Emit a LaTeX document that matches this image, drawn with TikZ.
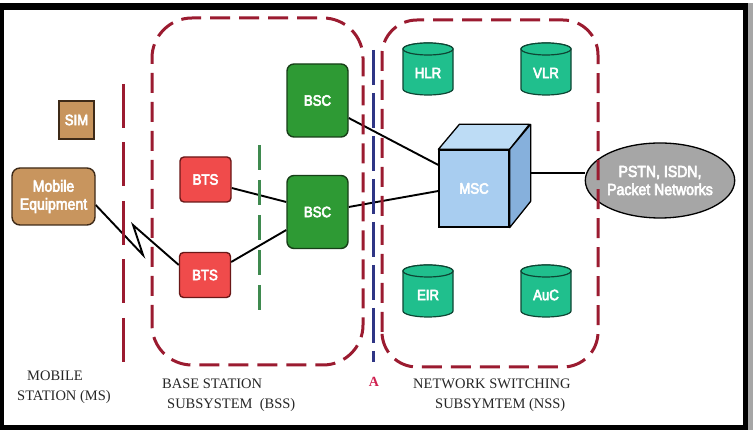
\documentclass[tikz,border=0pt]{standalone}
\usepackage{fontspec}
\setmainfont{Liberation Serif}
\newfontfamily\lsans[FakeStretch=0.88]{Liberation Sans}
\usetikzlibrary{backgrounds,shapes.geometric,calc}
\definecolor{dred}{HTML}{9B1B30}
\definecolor{dgreen}{HTML}{3F8A4F}
\definecolor{dblue}{HTML}{2F3585}
\definecolor{bscfill}{HTML}{2E9A34}
\definecolor{bscedge}{HTML}{173F18}
\definecolor{btsfill}{HTML}{F04B4B}
\definecolor{btsedge}{HTML}{6A1818}
\definecolor{mefill}{HTML}{C8955E}
\definecolor{meedge}{HTML}{3E2A18}
\definecolor{cylfill}{HTML}{20BF8D}
\definecolor{cyledge}{HTML}{0E4634}
\definecolor{mscfront}{HTML}{A8CDF0}
\definecolor{msctop}{HTML}{BDDCF5}
\definecolor{mscside}{HTML}{86B0DC}
\definecolor{netfill}{HTML}{A6A6A6}
\definecolor{crimson}{HTML}{D0204F}
\newcommand{\dbcyl}[4]{%
  \path[cyl] (#2-25,#3+20) -- (#2-25,#3-20)
    arc[start angle=180,end angle=360,x radius=25,y radius=6]
    -- (#2+25,#3+20)
    arc[start angle=0,end angle=180,x radius=25,y radius=6] -- cycle;
  \path[cyl] (#2,#3+20) ellipse[x radius=25,y radius=6];
  \node[lbl] (#1) at (#2,#3-4) {#4};}
\pgfdeclarelayer{background}
\begin{document}
\begin{tikzpicture}[x=1pt,y=1pt,
  lbl/.style={font=\lsans\fontsize{15}{16}\selectfont, text=white, inner sep=0pt, align=center,
    execute at begin node={\special{pdf:literal direct 2 Tr 0.6 w 0.2 0.2 0.2 RG}},
    execute at end node={\special{pdf:literal direct 0 Tr}}},
  biglbl/.style={lbl, font=\lsans\fontsize{16}{18}\selectfont},
  bscbox/.style={lbl, draw=bscedge, fill=bscfill, line width=1.4, rounded corners=7, minimum width=61, minimum height=73},
  btsbox/.style={lbl, draw=btsedge, fill=btsfill, line width=1.4, rounded corners=4, minimum width=51, minimum height=45},
  cyl/.style={draw=cyledge, fill=cylfill, line width=1.2},
  link/.style={line width=1.9, black},
  redbox/.style={draw=dred, line width=3, dash pattern=on 20 off 9},
  caption/.style={font=\fontsize{14.5}{20.5}\selectfont, align=left, inner sep=0pt, text=black!85}]
\useasboundingbox (0,0) rectangle (753,430);
\begin{pgfonlayer}{background}
  \fill[black] (0,0) rectangle (748,427);
  \fill[black!35] (748,0) rectangle (753,427);
  \fill[white] (4,5) rectangle (743,420);
\end{pgfonlayer}

% Mobile station
\node[lbl, draw=meedge, fill=mefill, line width=1.4, minimum width=35, minimum height=38] (sim) at (76.5,310) {SIM};
\node[biglbl, draw=meedge, fill=mefill, line width=1.4, rounded corners=8, minimum width=83, minimum height=57] (me) at (53.5,233.5) {Mobile\\Equipment};
\coordinate (mstop) at (123,346);
\coordinate (msbot) at (123,68);
\draw[draw=dred, line width=3, dash pattern=on 44 off 14.5] (mstop) -- (msbot);

% BSS
\node[bscbox] (bsc1) at (317.5,329.5) {BSC};
\node[bscbox] (bsc2) at (317.5,218) {BSC};
\node[btsbox] (bts1) at (205.5,250.5) {BTS};
\node[btsbox] (bts2) at (205,155) {BTS};
\coordinate (gtop) at (259,285);
\coordinate (gbot) at (259,120);
\draw[draw=dgreen, line width=3, dash pattern=on 25 off 10] (gtop) -- (gbot);
\coordinate (btop) at (373,380);
\coordinate (bbot) at (373,68);
\draw[draw=dblue, line width=3, dash pattern=on 35 off 8] (btop) -- (bbot);
\node[font=\bfseries\fontsize{14}{16}\selectfont, text=crimson, inner sep=0pt] (alabel) at (374,48) {A};

% NSS
\dbcyl{hlr}{428}{361}{HLR}
\dbcyl{vlr}{546}{361}{VLR}
\dbcyl{eir}{428}{139}{EIR}
\dbcyl{auc}{546}{139}{AuC}
\node[lbl, draw=black, fill=mscfront, line width=1.3, minimum width=70, minimum height=77] (msc) at (474,241.5) {MSC};
\draw[black, line width=1.3, fill=msctop, line join=round] (msc.north west) -- ++(21,25) -- ++(70,0) -- (msc.north east) -- cycle;
\draw[black, line width=1.3, fill=mscside, line join=round] (msc.north east) -- ++(21,25) -- ++(0,-77) -- (msc.south east) -- cycle;
\node[biglbl, ellipse, draw=black, fill=netfill, line width=1.3, minimum width=146, minimum height=75] (pstn) at (660,249.5) {PSTN, ISDN,\\Packet Networks};

% connectors
\coordinate (z1) at (143,175);
\coordinate (z2) at (133,205);
\begin{pgfonlayer}{background}
  \draw[link] ([yshift=-8.5]me.east) -- (z1) -- (z2) -- ([yshift=10]bts2.west);
  \draw[link] ([yshift=-8.5]bts1.east) -- ([yshift=10]bsc2.west);
  \draw[link] ([yshift=13]bts2.east) -- ([yshift=-18]bsc2.west);
  \draw[link] ([yshift=-17.5]bsc1.east) -- ([yshift=23.5]msc.west);
  \draw[link] ([yshift=5]bsc2.east) -- ([yshift=-2.5]msc.west);
  \draw[link] ([shift={(18,15.5)}]msc.east) -- ([yshift=7.5]pstn.west);
\end{pgfonlayer}

% subsystem boundaries
\draw[redbox, rounded corners=40] (152,65) rectangle (363,412);
\draw[redbox, rounded corners=35] (382,63) rectangle (598,410);

% captions
\node[caption, anchor=west] (mscap) at (17,43) {\hspace*{10pt}MOBILE\\STATION (MS)};
\node[caption, anchor=west] (bsscap) at (162,35) {BASE STATION\\\hspace*{5pt}SUBSYSTEM\ \ (BSS)};
\node[caption, anchor=west] (nsscap) at (413,35) {NETWORK SWITCHING\\\hspace*{22pt}SUBSYMTEM (NSS)};
\end{tikzpicture}
\end{document}
